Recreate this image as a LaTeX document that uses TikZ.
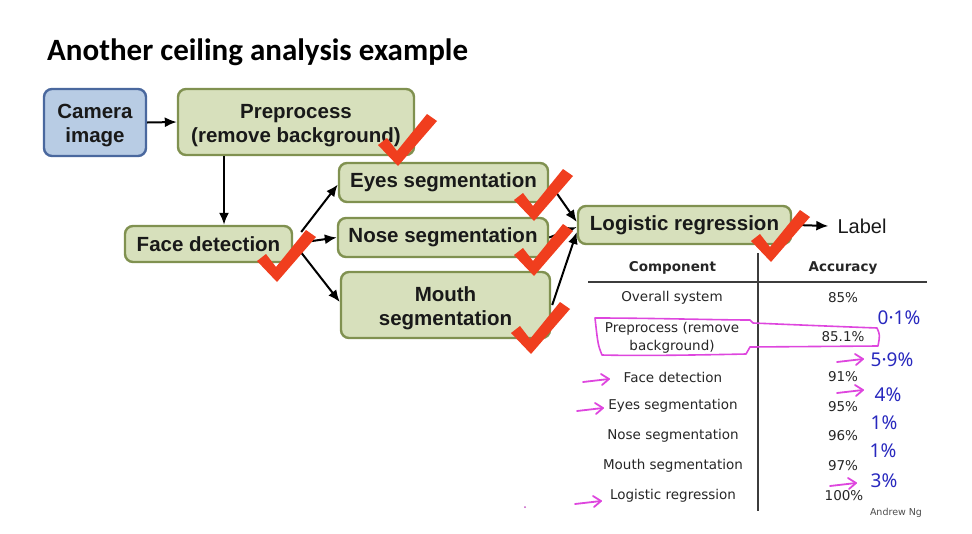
\documentclass[tikz,border=0pt]{standalone}
\usepackage{fontspec}
\setmainfont{Liberation Sans}
\newfontfamily\titlefont{Carlito}
\newfontfamily\tablefont{DejaVu Sans}
\newfontfamily\handfont{Noto Sans}
\usetikzlibrary{arrows.meta}

\definecolor{stagefill}{RGB}{215,224,188}
\definecolor{stageedge}{RGB}{128,145,80}
\definecolor{camfill}{RGB}{184,204,228}
\definecolor{camedge}{RGB}{74,104,158}
\definecolor{checkred}{RGB}{240,62,30}
\definecolor{inkpink}{RGB}{222,70,222}
\definecolor{inkblue}{RGB}{40,40,190}
\definecolor{rulegray}{RGB}{60,60,60}

% strut that lowers two-line captions inside their boxes
\newcommand{\topstrut}{\rule{0pt}{21pt}}

\tikzset{
  stage/.style={draw=stageedge, fill=stagefill, line width=2.4pt,
    rounded corners=8pt, align=center, inner sep=0pt,
    font=\fontsize{20.5}{24}\selectfont\bfseries, text=black!90},
  cambox/.style={stage, draw=camedge, fill=camfill},
  flow/.style={line width=2pt, -{Latex[length=12pt,width=10pt]}},
  celltext/.style={font=\tablefont\fontsize{13.5}{16}\selectfont, text=black!85, align=center},
  headtext/.style={celltext, font=\tablefont\bfseries\fontsize{13.5}{16}\selectfont},
  pinkarrow/.style={draw=inkpink, line width=1.8pt, line cap=round, line join=round},
  handnote/.style={font=\handfont\fontsize{19}{21}\selectfont, text=inkblue},
  okmark/.pic={
    \fill[checkred] (-19,-16) -- (-10,-23) -- (0,-10) -- (30,-47) -- (40,-40) -- (1,5) -- cycle;
  },
  penarrow/.pic={
    \draw[pinkarrow] (-13,2) -- (13,-1);
    \draw[pinkarrow] (5,-6) -- (13,-1) -- (6,5);
  }
}

\begin{document}
\begin{tikzpicture}[x=1pt,y=-1pt]
  \useasboundingbox (0,0) rectangle (972,533);

  % title
  \node[anchor=base west, inner sep=0pt, font=\titlefont\bfseries\fontsize{31}{36}\selectfont]
    (title) at (47,60) {Another ceiling analysis example};

  % pipeline stages
  \node[cambox, minimum width=102pt, minimum height=67pt] (cam) at (95,122.5) {\topstrut Camera\\image};
  \node[stage, minimum width=236pt, minimum height=66pt] (pre) at (296,122) {\topstrut Preprocess\\(remove background)};
  \node[stage, minimum width=167pt, minimum height=36pt] (face) at (208.5,244) {Face detection};
  \node[stage, minimum width=209pt, minimum height=39pt] (eyes) at (443.5,182.5) {Eyes segmentation};
  \node[stage, minimum width=210pt, minimum height=39pt] (nose) at (443,237.5) {Nose segmentation};
  \node[stage, minimum width=209pt, minimum height=66pt] (mouth) at (445.5,305) {\topstrut Mouth\\segmentation};
  \node[stage, minimum width=213pt, minimum height=38pt] (logreg) at (684.5,225) {Logistic regression};
  \node[font=\fontsize{20}{23}\selectfont, inner sep=0pt, text=black!90] (label) at (862,226) {Label};

  % connectors
  \draw[flow] (cam.east) -- (pre.west);
  \draw[flow] ([xshift=15.5pt]face.north |- pre.south) -- ([xshift=15.5pt]face.north);
  \draw[flow] ([shift={(8pt,12pt)}]face.east) -- ([yshift=-2pt]eyes.west);
  \draw[flow] ([shift={(12pt,2pt)}]face.east) -- ([yshift=0pt]nose.west);
  \draw[flow] ([shift={(6pt,-6pt)}]face.east) -- ([yshift=3pt]mouth.west);
  \draw[flow] ([shift={(7pt,-10pt)}]eyes.east) -- ([yshift=3pt]logreg.west);
  \draw[flow] ([shift={(0pt,0pt)}]nose.east) -- ([yshift=-2pt]logreg.west);
  \draw[flow] ([shift={(1pt,0pt)}]mouth.east) -- ([yshift=-7pt]logreg.west);
  \draw[flow] ([xshift=4pt]logreg.east) -- ([xshift=-9pt]label.west);

  % check marks over finished stages
  \pic at (397,161) {okmark};
  \pic at (276,277) {okmark};
  \pic at (533,216) {okmark};
  \pic at (533,271) {okmark};
  \pic at (530,349) {okmark};
  \pic at (770,257) {okmark};

  % accuracy table
  \coordinate (vtop) at (758,253);
  \coordinate (vbot) at (758,511);
  \coordinate (hl) at (588,282);
  \coordinate (hr) at (927,282);
  \draw[rulegray, line width=1.5pt] (vtop) -- (vbot);
  \draw[rulegray, line width=1.5pt] (hl) -- (hr);

  \node[headtext] (hcomp) at (672.5,268) {Component};
  \node[headtext] (hacc) at (843,268) {Accuracy};

  \node[celltext] (c1) at (672,298) {Overall system};
  \node[celltext] (a1) at (843,298) {85\%};
  \node[celltext, font=\tablefont\fontsize{13.5}{17.5}\selectfont] (c2) at (672,338) {Preprocess (remove\\background)};
  \node[celltext] (a2) at (843,337) {85.1\%};
  \node[celltext] (c3) at (673,377) {Face detection};
  \node[celltext] (a3) at (843,377) {91\%};
  \node[celltext] (c4) at (673,406) {Eyes segmentation};
  \node[celltext] (a4) at (843,407) {95\%};
  \node[celltext] (c5) at (673,436) {Nose segmentation};
  \node[celltext] (a5) at (843,436) {96\%};
  \node[celltext] (c6) at (673,466) {Mouth segmentation};
  \node[celltext] (a6) at (843,466) {97\%};
  \node[celltext] (c7) at (673,496) {Logistic regression};
  \node[celltext] (a7) at (844,496) {100\%};

  \node[font=\tablefont\fontsize{9.5}{11}\selectfont, text=black!70] (author) at (896,513) {Andrew Ng};

  % pen annotations: loop around the preprocess row
  \draw[inkpink, line width=1.6pt, line join=round]
    (595,318) .. controls (650,318) and (720,320) .. (750,320)
    -- (753,323) .. controls (800,325) and (850,327) .. (877,328)
    .. controls (880,335) .. (878,346)
    -- (750,347) -- (746,354)
    .. controls (700,355) and (640,356) .. (602,355)
    .. controls (598,345) .. (595,318) -- cycle;

  % pen annotations: arrows
  \pic at (850,360) {penarrow};
  \pic at (596,380) {penarrow};
  \pic at (590,409) {penarrow};
  \pic at (850,391) {penarrow};
  \pic at (843,484) {penarrow};
  \pic at (588,502) {penarrow};
  \fill[inkpink!70!gray] (525,507) circle (1pt);

  % pen annotations: differences
  \node[handnote] (d1) at (899,318) {0·1\%};
  \node[handnote] (d2) at (892,360) {5·9\%};
  \node[handnote] (d3) at (888,395) {4\%};
  \node[handnote] (d4) at (884,423) {1\%};
  \node[handnote] (d5) at (883,451) {1\%};
  \node[handnote] (d6) at (884,481) {3\%};
\end{tikzpicture}
\end{document}
